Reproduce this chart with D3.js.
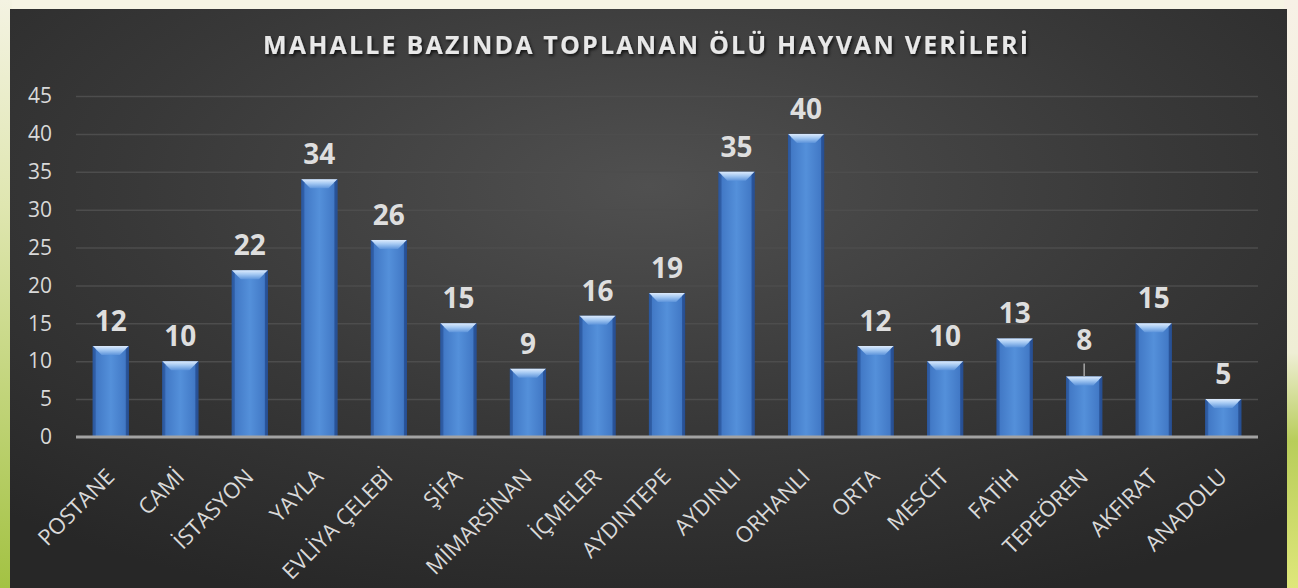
<!DOCTYPE html>
<html>
<head>
<meta charset="utf-8">
<script src="https://cdn.jsdelivr.net/npm/d3@7"></script>
<style>
  html, body { margin: 0; padding: 0; background: #f6f4e4; }
  svg { display: block; }
</style>
</head>
<body>
<svg id="chart" width="1298" height="588"></svg>
<script>
// Dead-animal pickups per neighbourhood
const categories = ["POSTANE", "CAMİ", "İSTASYON", "YAYLA", "EVLİYA ÇELEBİ", "ŞİFA", "MİMARSİNAN",
  "İÇMELER", "AYDINTEPE", "AYDINLI", "ORHANLI", "ORTA", "MESCİT", "FATİH", "TEPEÖREN", "AKFIRAT", "ANADOLU"];
const values = [12, 10, 22, 34, 26, 15, 9, 16, 19, 35, 40, 12, 10, 13, 8, 15, 5];
const yTicks = [0, 5, 10, 15, 20, 25, 30, 35, 40, 45];
const title = "MAHALLE BAZINDA TOPLANAN ÖLÜ HAYVAN VERİLERİ";

const W = 1298, H = 588;
const svg = d3.select("#chart");
const defs = svg.append("defs");

// page backdrop: cream with green accents at the edges
const leftG = defs.append("linearGradient").attr("id", "leftG").attr("x1", 0).attr("y1", 0).attr("x2", 0).attr("y2", 1);
leftG.append("stop").attr("offset", "0%").attr("stop-color", "#f4f3e2");
leftG.append("stop").attr("offset", "35%").attr("stop-color", "#dfe6b0");
leftG.append("stop").attr("offset", "100%").attr("stop-color", "#a3c243");
const rightG = defs.append("linearGradient").attr("id", "rightG").attr("x1", 0).attr("y1", 0).attr("x2", 0).attr("y2", 1);
rightG.append("stop").attr("offset", "0%").attr("stop-color", "#f7f1e6");
rightG.append("stop").attr("offset", "60%").attr("stop-color", "#efeed5");
rightG.append("stop").attr("offset", "75%").attr("stop-color", "#b8cd5a");
rightG.append("stop").attr("offset", "100%").attr("stop-color", "#dfe77a");
svg.append("rect").attr("x", 0).attr("y", 0).attr("width", W).attr("height", H).attr("fill", "#f6f4e4");
svg.append("rect").attr("x", 0).attr("y", 0).attr("width", 12).attr("height", H).attr("fill", "url(#leftG)");
svg.append("rect").attr("x", 1284).attr("y", 0).attr("width", 14).attr("height", H).attr("fill", "url(#rightG)");

// dark chart panel with a soft radial glow
const panelG = defs.append("radialGradient").attr("id", "panelG")
  .attr("cx", "50%").attr("cy", "30%").attr("r", "75%");
panelG.append("stop").attr("offset", "0%").attr("stop-color", "#505050");
panelG.append("stop").attr("offset", "55%").attr("stop-color", "#383838");
panelG.append("stop").attr("offset", "100%").attr("stop-color", "#272727");
svg.append("rect").attr("x", 10).attr("y", 9).attr("width", 1277).attr("height", 590)
  .attr("fill", "url(#panelG)");

// bar fills
const barG = defs.append("linearGradient").attr("id", "barG").attr("x1", 0).attr("y1", 0).attr("x2", 1).attr("y2", 0);
[["0%", "#2c5aa3"], ["10%", "#4279c6"], ["50%", "#5490da"], ["90%", "#4279c6"], ["100%", "#2c5aa3"]]
  .forEach(([o, c]) => barG.append("stop").attr("offset", o).attr("stop-color", c));
const bevelG = defs.append("linearGradient").attr("id", "bevelG").attr("x1", 0).attr("y1", 0).attr("x2", 0).attr("y2", 1);
[["0%", "#e4f0ff"], ["45%", "#a9ccf4"], ["100%", "#5d94db"]]
  .forEach(([o, c]) => bevelG.append("stop").attr("offset", o).attr("stop-color", c));

const shadow = defs.append("filter").attr("id", "tshadow").attr("x", "-5%").attr("y", "-30%").attr("width", "110%").attr("height", "160%");
shadow.append("feDropShadow").attr("dx", 1.5).attr("dy", 2).attr("stdDeviation", 1.5)
  .attr("flood-color", "#000").attr("flood-opacity", 0.7);

const margin = { left: 76, right: 1258, top: 96, bottom: 437 };

const x = d3.scaleBand().domain(categories).range([margin.left, margin.right])
  .paddingInner(0.48).paddingOuter(0.24);
const y = d3.scaleLinear().domain([0, 45]).range([margin.bottom, margin.top]);

// title
svg.append("text")
  .attr("x", 645.5).attr("y", 54)
  .attr("text-anchor", "middle")
  .attr("font-family", "'Open Sans', sans-serif")
  .attr("font-weight", 700).attr("font-size", 25)
  .attr("textLength", 765).attr("lengthAdjust", "spacing")
  .attr("fill", "#e8e8e8")
  .attr("filter", "url(#tshadow)")
  .text(title);

// gridlines + value axis
const yAxis = d3.axisLeft(y).tickValues(yTicks).tickSize(-(margin.right - margin.left)).tickPadding(24);
const gy = svg.append("g").attr("transform", `translate(${margin.left},0)`).call(yAxis);
gy.select(".domain").remove();
gy.selectAll(".tick line").attr("stroke", "#4d4d4d").attr("stroke-width", 1.5)
  .filter(d => d === 0).remove();
gy.selectAll(".tick text")
  .attr("font-family", "'Open Sans', sans-serif").attr("font-size", 21)
  .attr("fill", "#d9d9d9");

// bars
const bars = svg.append("g").selectAll("g.bar").data(values).join("g").attr("class", "bar");
bars.append("rect")
  .attr("x", (d, i) => x(categories[i]))
  .attr("y", d => y(d))
  .attr("width", x.bandwidth())
  .attr("height", d => y(0) - y(d))
  .attr("fill", "url(#barG)");
// bevelled top edge
const bevel = 9;
bars.append("path")
  .attr("d", (d, i) => {
    const x0 = x(categories[i]), x1 = x0 + x.bandwidth(), t = y(d);
    return `M${x0},${t} L${x1},${t} L${x1 - bevel},${t + bevel} L${x0 + bevel},${t + bevel} Z`;
  })
  .attr("fill", "url(#bevelG)").attr("opacity", 0.95);
// side bevel shading
bars.append("path")
  .attr("d", (d, i) => {
    const x0 = x(categories[i]), t = y(d), b = y(0);
    return `M${x0},${t} L${x0 + 3},${t + 3} L${x0 + 3},${b} L${x0},${b} Z`;
  })
  .attr("fill", "#2a5398").attr("opacity", 0.6);
bars.append("path")
  .attr("d", (d, i) => {
    const x1 = x(categories[i]) + x.bandwidth(), t = y(d), b = y(0);
    return `M${x1},${t} L${x1 - 3},${t + 3} L${x1 - 3},${b} L${x1},${b} Z`;
  })
  .attr("fill", "#24498a").attr("opacity", 0.7);

// baseline
svg.append("line")
  .attr("x1", margin.left).attr("x2", margin.right)
  .attr("y1", y(0)).attr("y2", y(0))
  .attr("stroke", "#a3a3a3").attr("stroke-width", 3);

// value labels (TEPEÖREN's label is lifted with a leader line)
const lifted = "TEPEÖREN";
const liftBy = 11;
const labels = svg.append("g").selectAll("text").data(values).join("text")
  .attr("x", (d, i) => x(categories[i]) + x.bandwidth() / 2)
  .attr("y", (d, i) => y(d) - 15 - (categories[i] === lifted ? liftBy : 0))
  .attr("text-anchor", "middle")
  .attr("font-family", "'Open Sans', sans-serif").attr("font-weight", 700).attr("font-size", 28)
  .attr("fill", "#dedede")
  .text(d => d);
values.forEach((d, i) => {
  if (categories[i] !== lifted) return;
  const cx = x(categories[i]) + x.bandwidth() / 2;
  svg.append("line")
    .attr("x1", cx).attr("x2", cx)
    .attr("y1", y(d) - 13).attr("y2", y(d))
    .attr("stroke", "#a6a6a6").attr("stroke-width", 1.5);
});

// category axis labels, rotated
const gx = svg.append("g").attr("transform", `translate(0,${y(0)})`)
  .call(d3.axisBottom(x).tickSize(0).tickPadding(0));
gx.select(".domain").remove();
gx.selectAll(".tick text")
  .attr("font-family", "'Open Sans', sans-serif").attr("font-size", 22)
  .attr("fill", "#d9d9d9")
  .attr("text-anchor", "end")
  .attr("dy", "0.72em")
  .attr("transform", "translate(-6,30) rotate(-45)");
</script>
</body>
</html>
